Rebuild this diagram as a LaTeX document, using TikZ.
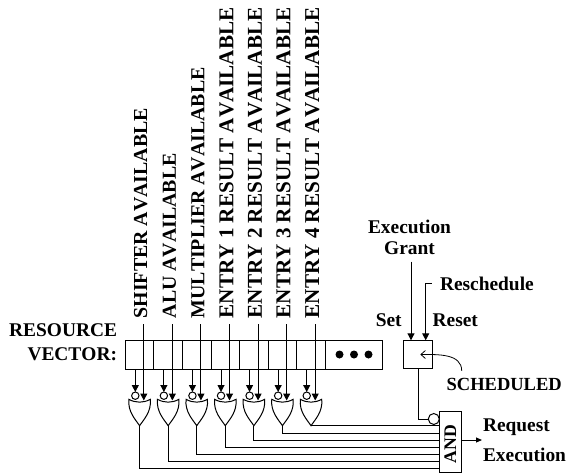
\documentclass[tikz,border=0pt]{standalone}
\usepackage{fontspec}
\setmainfont[Kerning=Off]{Liberation Serif}
\usetikzlibrary{arrows.meta,positioning}
\begin{document}
\begin{tikzpicture}[
  x=1pt, y=-1pt,
  font=\fontsize{19.4}{22}\selectfont\bfseries,
  wire/.style={line width=1pt},
  ar/.style={wire, -{Triangle[length=7pt,width=7pt]}},
  cell/.style={draw, line width=1pt, minimum width=28.57pt, minimum height=29pt, inner sep=0pt, outer sep=0pt},
  bubble/.style={draw, circle, line width=1pt, fill=white, inner sep=0pt, outer sep=0pt},
  lab/.style={inner sep=0pt, outer sep=0pt},
  vlab/.style={lab, rotate=90, anchor=west},
  orgate/.style={draw, line width=1pt, fill=white}
]
\useasboundingbox (0,0) rectangle (567,474);
% resource vector
\node[cell] (cell1) at (139.6,354.5) {};
\foreach \i [remember=\i as \j (initially 1)] in {2,...,7}
  \node[cell, right=0pt of cell\j] (cell\i) {};
\node[cell, right=0pt of cell7, minimum width=57.4pt] (more) {};
\foreach \d in {-14.5,0,14.5}
  \fill ([xshift=\d pt]more.center) circle (4pt);
\node[lab, align=right, anchor=east] (vector) at (117,342.5) {RESOURCE\\[2pt]VECTOR:};
% labels on top
\foreach \i/\t/\s in {1/SHIFTER AVAILABLE/19.85, 2/ALU AVAILABLE/19.85, 3/MULTIPLIER AVAILABLE/19.85,
    4/ENTRY 1 RESULT AVAILABLE/21.15, 5/ENTRY 2 RESULT AVAILABLE/21.15,
    6/ENTRY 3 RESULT AVAILABLE/21.15, 7/ENTRY 4 RESULT AVAILABLE/21.15} {
  \node[vlab, font=\fontsize{\s}{22}\selectfont\bfseries] (lab\i) at ([xshift=1.2pt]cell\i.center |- 0,318.3) {\t};
  \node[bubble, minimum size=7.4pt] (bub\i) at ([xshift=-4.3pt]cell\i.center |- 0,395.7) {};
  \coordinate (in\i) at ([xshift=4.2pt]cell\i.center |- 0,400.5);
  \coordinate (gate\i) at (cell\i.center |- 0,425.7);
  \draw[orgate] ([shift={(-10.7,-26.4)}]gate\i) .. controls ([shift={(-4,-22.6)}]gate\i) and ([shift={(4,-22.6)}]gate\i) .. ([shift={(10.7,-26.4)}]gate\i)
    .. controls ([shift={(12,-14)}]gate\i) and ([shift={(4,-6)}]gate\i) .. (gate\i)
    .. controls ([shift={(-4,-6)}]gate\i) and ([shift={(-12,-14)}]gate\i) .. cycle;
  \draw[ar] ([xshift=-4.3pt]cell\i.south) -- (bub\i.north);
  \draw[ar] ([shift={(3,5.7)}]lab\i.west) -- (in\i);
}
% latch and AND
\node[cell, minimum width=28.7pt, minimum height=28.4pt] (latch) at (418.3,354.5) {};
\node[draw, line width=1pt, minimum width=21.7pt, minimum height=60.6pt, inner sep=0pt, outer sep=0pt] (and) at (450.2,442) {};
\node[lab, rotate=90, font=\fontsize{17.7}{20}\selectfont\bfseries] (andtext) at (450.2,444) {AND};
\node[bubble, minimum size=11pt] (bubnot) at (433.8,419) {};
\draw[wire] (latch.south) |- (bubnot.west);
\foreach \i/\y in {7/425.7, 6/433.3, 5/440.3, 4/447.3, 3/454.7, 2/461.7, 1/468.7}
  \draw[wire] (gate\i) |- (and.west |- 0,\y);
% labels on the right
\node[lab, align=center] (grant) at (409.5,237) {Execution\\[-1pt]Grant};
\node[lab, anchor=west] (resched) at (440,284) {Reschedule};
\node[lab, anchor=east] (set) at (401.7,320) {Set};
\node[lab, anchor=west] (reset) at (432.7,320) {Reset};
\node[lab, font=\fontsize{18.5}{20}\selectfont\bfseries] (sched) at (504.2,384) {SCHEDULED};
\node[lab, anchor=west] (req) at (483,427) {Request};
\node[lab, anchor=west] (exec) at (483,455) {Execution};
\coordinate (gtop) at (411,261.7);
\coordinate (rtop) at (431.7,283.3);
\coordinate (rmid) at (425.7,283.3);
\coordinate (andout) at (482,440);
\draw[ar] (gtop) -- (gtop |- latch.north);
\draw[ar] (rtop) -- (rmid) -- (rmid |- latch.north);
\draw[line width=.8pt, -{Straight Barb[length=4.5pt,width=8pt]}] ([xshift=-42.5pt,yshift=7pt]sched.north) to[out=90,in=0] ([xshift=2pt]latch.center);
\draw[wire, -{Triangle[length=6pt,width=5pt]}] (and.east |- andout) -- (andout);
\end{tikzpicture}
\end{document}
